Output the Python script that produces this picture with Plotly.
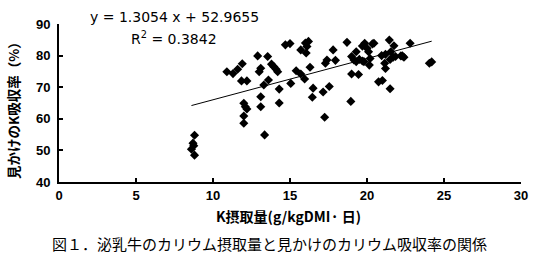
import numpy as np
import plotly.graph_objects as go

# K intake (g/kgDMI/day) and apparent K absorption (%)
k_intake = [
    8.8, 8.7, 8.75, 8.6, 8.8,
    10.9, 11.3, 11.6, 11.9, 11.85, 12.2, 12.0, 12.1, 12.2, 12.0, 12.0,
    12.9, 13.0, 13.1, 13.3, 13.1, 13.1, 13.35, 13.55, 13.6, 13.8, 13.95, 14.1, 14.2,
    14.3, 14.3, 14.7, 15.0, 15.05, 15.4, 15.7, 15.95, 15.7, 16.0, 16.1, 16.2, 16.05,
    16.3, 16.5, 16.45, 17.15, 17.55, 17.25, 17.3, 17.4, 17.8, 17.95,
    18.7, 18.95, 19.0, 19.15, 19.3, 19.5, 19.7, 19.0, 19.45, 19.3, 19.7, 19.85,
    20.0, 20.1, 20.35, 20.45, 20.2, 20.15, 19.8, 20.75, 21.0, 21.5,
    20.95, 21.2, 21.15, 21.2, 21.45, 21.75, 21.55, 21.5, 21.7, 21.85, 22.3,
    22.8, 22.2, 22.4, 24.05, 24.2,
]
k_absorption = [
    54.8, 52.3, 51.5, 50.4, 48.5,
    74.9, 74.3, 75.7, 77.4, 72.0, 72.0, 64.9, 63.8, 63.1, 60.9, 58.6,
    79.9, 74.9, 76.0, 70.7, 67.0, 63.8, 54.9, 79.7, 72.3, 77.3, 76.5, 75.7, 74.9,
    69.4, 65.0, 83.4, 83.8, 71.2, 75.2, 74.2, 72.6, 81.8, 84.0, 82.9, 84.5, 80.8,
    76.3, 69.7, 66.8, 68.5, 70.2, 60.5, 77.6, 78.6, 81.8, 78.5,
    84.2, 65.5, 79.7, 78.6, 78.1, 78.8, 78.3, 74.2, 74.0, 81.2, 83.0, 83.9,
    82.3, 81.2, 83.7, 83.9, 79.1, 77.0, 78.1, 71.7, 72.1, 69.5,
    80.0, 80.4, 77.6, 75.9, 84.9, 83.1, 81.2, 78.8, 79.5, 79.7, 79.9,
    83.9, 79.9, 79.5, 77.6, 78.0,
]

slope = 1.3054
intercept = 52.9655
r_squared = 0.3842

x_ticks = [0, 5, 10, 15, 20, 25, 30]
y_ticks = [40, 50, 60, 70, 80, 90]

line_x = np.array([min(k_intake), max(k_intake)])
line_y = slope * line_x + intercept

fig = go.Figure()
fig.add_trace(go.Scatter(
    x=line_x, y=line_y, mode="lines",
    line=dict(color="black", width=1), hoverinfo="skip", showlegend=False,
))
fig.add_trace(go.Scatter(
    x=k_intake, y=k_absorption, mode="markers",
    marker=dict(symbol="diamond", color="black", size=7, line=dict(width=0)),
    showlegend=False,
))

tick_font = dict(family="Liberation Sans", size=13, color="black")
fig.update_layout(
    width=540, height=258,
    margin=dict(l=58.5, r=13.5, t=24, b=76),
    paper_bgcolor="white", plot_bgcolor="white",
    font=dict(family="Noto Sans CJK JP", color="black"),
    xaxis=dict(
        range=[0, 30], tickvals=x_ticks, ticktext=[f"<b>{t}</b>" for t in x_ticks],
        showgrid=False, zeroline=False, showline=True, linecolor="black", linewidth=2,
        ticks="inside", ticklen=4, tickwidth=1.5, tickcolor="black",
        tickfont=tick_font,
    ),
    yaxis=dict(
        range=[40, 90], tickvals=y_ticks, ticktext=[f"<b>{t}</b>" for t in y_ticks],
        showgrid=False, zeroline=False, showline=True, linecolor="black", linewidth=2,
        ticks="inside", ticklen=4, tickwidth=1.5, tickcolor="black",
        tickfont=tick_font, ticklabelstandoff=4,
    ),
    annotations=[
        dict(text=f"y = {slope} x + {intercept}", xref="paper", yref="paper",
             x=(176 - 58.5) / 468, y=(182 - 17) / 158, xanchor="center", yanchor="middle",
             showarrow=False, font=dict(family="DejaVu Sans", size=14, color="black")),
        dict(text=f"R<sup>2</sup> = {r_squared}", xref="paper", yref="paper",
             x=(175 - 58.5) / 468, y=(182 - 38) / 158, xanchor="center", yanchor="middle",
             showarrow=False, font=dict(family="DejaVu Sans", size=14, color="black")),
        dict(text="<b>見かけのK吸収率（%）</b>", xref="paper", yref="paper",
             x=(12 - 58.5) / 468, y=(182 - 107) / 158, textangle=-90,
             xanchor="center", yanchor="middle", showarrow=False,
             font=dict(family="Noto Sans CJK JP", size=13.5, color="black")),
        dict(text="<b>K摂取量(g/kgDMI· 日)</b>", xref="paper", yref="paper",
             x=(291 - 58.5) / 468, y=(182 - 216) / 158,
             xanchor="center", yanchor="middle", showarrow=False,
             font=dict(family="Noto Sans CJK JP", size=14, color="black")),
        dict(text="図１．泌乳牛のカリウム摂取量と見かけのカリウム吸収率の関係", xref="paper", yref="paper",
             x=(272 - 58.5) / 468, y=(182 - 243) / 158,
             xanchor="center", yanchor="middle", showarrow=False,
             font=dict(family="Noto Sans CJK JP", size=15, color="black")),
    ],
)

fig.write_html("out.html")
